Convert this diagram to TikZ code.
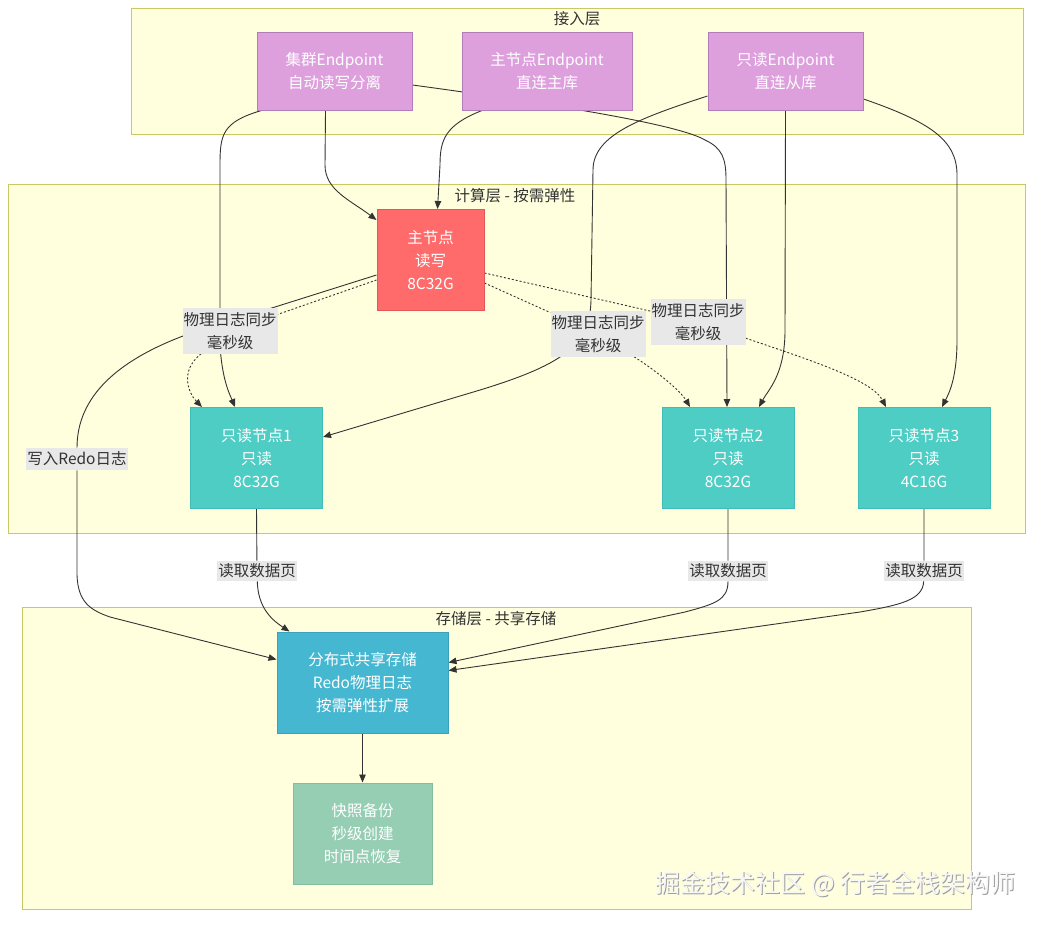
\documentclass[tikz,border=0pt]{standalone}
\usepackage{fontspec}
\setmainfont{Noto Sans CJK SC}
\usetikzlibrary{calc,positioning,arrows.meta,backgrounds}
\pgfdeclarelayer{edges}
\pgfsetlayers{background,edges,main}
\definecolor{grp}{HTML}{FFFFDE}
\definecolor{grpline}{HTML}{C8C864}
\definecolor{ink}{HTML}{333333}
\definecolor{epfill}{HTML}{DDA0DD}
\definecolor{epline}{HTML}{B27DB8}
\definecolor{mfill}{HTML}{FF6B6B}
\definecolor{mline}{HTML}{E05858}
\definecolor{rfill}{HTML}{4ECDC4}
\definecolor{rline}{HTML}{40BDB4}
\definecolor{sfill}{HTML}{45B7D1}
\definecolor{sline}{HTML}{3AA3BC}
\definecolor{bfill}{HTML}{96CEB4}
\definecolor{bline}{HTML}{84BCA2}
\definecolor{lblfill}{HTML}{E8E8E8}
\newcommand\txtfont{\fontsize{15.5}{23}\selectfont}
\begin{document}
\begin{tikzpicture}[x=1pt,y=-1pt]
\tikzstyle{grpbox}=[draw=grpline, fill=grp, line width=1pt]
\tikzstyle{grptitle}=[text=ink, font=\txtfont, inner sep=0pt]
\tikzstyle{box}=[draw, line width=1pt, text=white, align=center, font=\txtfont, inner sep=0pt, minimum height=101pt]
\tikzstyle{ep}=[box, fill=epfill, draw=epline, minimum height=78pt]
\tikzstyle{lbl}=[fill=lblfill, text=ink, align=center, font=\txtfont, inner xsep=1pt, inner ysep=4pt]
\tikzstyle{edge}=[draw=ink, line width=0.9pt, -{Triangle[length=8pt,width=6.5pt]}]
\tikzstyle{sync}=[edge, dash pattern=on 2pt off 2pt]
\useasboundingbox (0,0) rectangle (1040,924);
% layers: boxes at the back
\begin{scope}[on background layer]
\fill[white] (0,0) rectangle (1040,924);
\draw[grpbox] (131,8) rectangle (1023,134);
\draw[grpbox] (8,184) rectangle (1025,533);
\draw[grpbox] (22,607) rectangle (971,909);
\end{scope}
\node[grptitle] (T1) at (577,19) {接入层};
\node[grptitle] (T2) at (515,196) {计算层 - 按需弹性};
\node[grptitle] (T3) at (496,619) {存储层 - 共享存储};
% nodes
\foreach \n/\x/\w/\t in {CE/334.5/155/{集群Endpoint\\自动读写分离},ME/547/170/{主节点Endpoint\\直连主库},RE/785.5/155/{只读Endpoint\\直连从库}}{\node[ep, minimum width=\w pt] (\n) at (\x,71) {\t};}
\node[box, fill=mfill, draw=mline, minimum width=107pt] (M) at (430.5,260) {主节点\\读写\\8C32G};
\foreach \n/\x/\t in {R1/256.5/{只读节点1\\只读\\8C32G},R2/728/{只读节点2\\只读\\8C32G},R3/924/{只读节点3\\只读\\4C16G}}{\node[box, fill=rfill, draw=rline, minimum width=132pt] (\n) at (\x,458) {\t};}
\node[box, fill=sfill, draw=sline, minimum width=171pt] (S) at (362.5,682.5) {分布式共享存储\\Redo物理日志\\按需弹性扩展};
\node[box, fill=bfill, draw=bline, minimum width=139pt] (SN) at (362.5,833.5) {快照备份\\秒级创建\\时间点恢复};
% edge labels
\node[lbl] (L1) at (230,331) {物理日志同步\\毫秒级};
\node[lbl] (L2) at (598,334) {物理日志同步\\毫秒级};
\node[lbl] (L3) at (698,322) {物理日志同步\\毫秒级};
\node[lbl] (L4) at (77,459) {写入Redo日志};
\foreach \n/\x in {P1/257,P2/728,P3/924}{\node[lbl, inner ysep=3pt] (\n) at (\x,571) {读取数据页};}
% connectors
\begin{pgfonlayer}{edges}
\draw[edge] ([xshift=5pt]CE.south west) .. controls (222,122) and (220,135) .. (220,165) -- (220,345) .. controls (222,380) and (230,395) .. ([xshift=45pt]R1.north west);
\draw[edge] ([xshift=-9pt]CE.south) -- (325,165) .. controls (325,190) and (350,200) .. ([yshift=-11pt]M.north west);
\draw[edge] ([xshift=-65pt]ME.south) .. controls (445,125) and (440,140) .. (440,165) -- ([xshift=7pt]M.north);
\draw[edge] ([yshift=-14pt]CE.east) .. controls (560,105) and (680,125) .. (705,140) .. controls (722,148) and (726,158) .. (726,180) -- ([xshift=-1pt]R2.north);
\draw[edge] ([yshift=-25pt]RE.west) .. controls (640,118) and (593,135) .. (593,170) -- (591,300) .. controls (590,345) and (565,365) .. (470,393) -- ([yshift=21pt]R1.east);
\draw[edge] (RE.south) -- (785,330) .. controls (785,375) and (768,390) .. ([xshift=31pt]R2.north);
\draw[edge] ([yshift=-28pt]RE.east) .. controls (930,122) and (957,140) .. (957,175) -- (957,340) .. controls (957,380) and (948,395) .. ([xshift=18pt]R3.north);
\draw[sync] ([yshift=-20pt]M.west) -- (L1) .. controls (178,372) and (190,395) .. ([xshift=12pt]R1.north west);
\draw[sync] ([yshift=-23pt]M.east) -- (L2) .. controls (655,370) and (680,390) .. ([xshift=-38pt]R2.north);
\draw[sync] ([yshift=-13pt]M.east) -- (L3) .. controls (810,360) and (872,380) .. ([xshift=-38pt]R3.north);
\draw[edge] ([yshift=-15pt]M.west) -- (183,336) .. controls (120,360) and (77,395) .. (L4) -- (77,575) .. controls (78,602) and (90,610) .. (110,617) -- ([yshift=23pt]S.west);
\draw[edge] (R1.south) -- (P1) .. controls (258,608) and (272,620) .. ([xshift=13pt]S.north west);
\draw[edge] (R2.south) -- (P2) .. controls (728,600) and (715,604) .. (685,612) -- ([yshift=20pt]S.east);
\draw[edge] (R3.south) -- (P3) .. controls (923,600) and (900,605) .. (860,612) -- ([yshift=12pt]S.east);
\draw[edge] (S) -- (SN);
\end{pgfonlayer}
% watermark
\node[text=gray!75, font=\fontsize{25}{28}\selectfont, inner sep=0pt] (WMs) at (836.5,885.5) {掘金技术社区 @ 行者全栈架构师};
\node[text=white!94!gray, font=\fontsize{25}{28}\selectfont, inner sep=0pt] (WM) at (835.5,884.5) {掘金技术社区 @ 行者全栈架构师};
\end{tikzpicture}
\end{document}
